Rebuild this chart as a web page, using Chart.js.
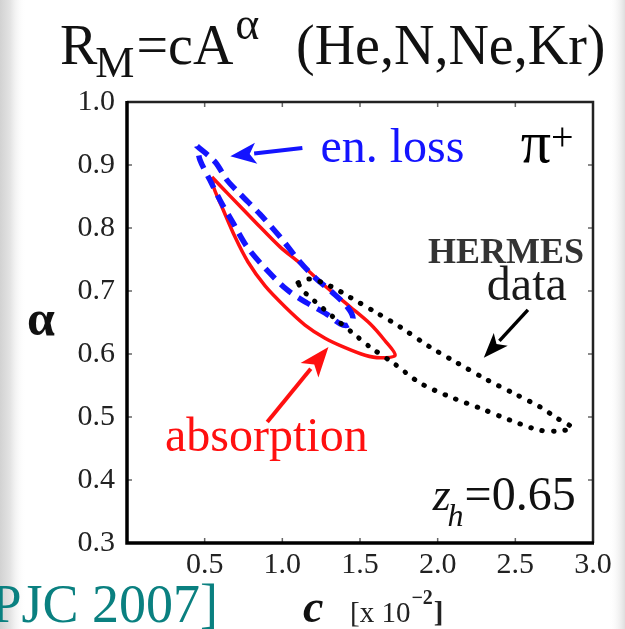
<!DOCTYPE html>
<html><head><meta charset="utf-8">
<script src="https://cdn.jsdelivr.net/npm/chart.js@4.4.1/dist/chart.umd.min.js"></script>
<style>html,body{margin:0;padding:0;background:#fff;overflow:hidden}#wrap{position:relative;width:625px;height:629px}canvas{display:block}</style>
</head><body><div id="wrap"><canvas id="c" width="625" height="629"></canvas></div>
<script>
// ---- data ----
const xTicks = [0.5, 1.0, 1.5, 2.0, 2.5, 3.0];
const yTicks = [0.3, 0.4, 0.5, 0.6, 0.7, 0.8, 0.9, 1.0];

// absorption contour (red, solid)
const absC     = [0.547,0.663,0.824,0.985,1.114,1.275,1.436,1.565,1.661,1.726,1.629,1.533,1.404,1.275,1.146,1.017,0.889,0.779,0.695,0.612,0.560,0.547];
const absAlpha = [0.881,0.851,0.810,0.770,0.744,0.708,0.675,0.648,0.621,0.598,0.594,0.598,0.610,0.625,0.646,0.675,0.708,0.746,0.786,0.833,0.863,0.881];

// energy-loss contour (blue, dashed)
const elC      = [0.451,0.567,0.644,0.728,0.856,0.985,1.114,1.211,1.326,1.417,1.455,1.423,1.372,1.288,1.159,1.030,0.901,0.773,0.683,0.599,0.534,0.470,0.451];
const elAlpha  = [0.930,0.905,0.876,0.854,0.822,0.786,0.746,0.721,0.697,0.675,0.657,0.646,0.648,0.663,0.681,0.702,0.733,0.770,0.808,0.844,0.876,0.908,0.930];

// HERMES data contour (black, dotted)
const hmC      = [1.101,1.178,1.307,1.436,1.610,1.758,1.951,2.125,2.318,2.486,2.659,2.769,2.865,2.788,2.659,2.466,2.273,2.080,1.887,1.713,1.565,1.455,1.326,1.198,1.127,1.101];
const hmAlpha  = [0.713,0.719,0.708,0.690,0.665,0.643,0.611,0.586,0.559,0.538,0.516,0.498,0.483,0.478,0.479,0.495,0.514,0.532,0.554,0.586,0.611,0.633,0.659,0.686,0.702,0.713];

const pts = (xs, ys) => xs.map((v, i) => ({x: v, y: ys[i]}));

// annotation anchors in data units
const ANN = {
  enLoss:   {x: 1.245, y: 0.905},
  blueArrow:{x1: 1.129, y1: 0.927, x2: 0.665, y2: 0.914},
  pi:       {x: 2.535, y: 0.905},
  hermes:   {x: 2.942, y: 0.744},
  data:     {x: 2.574, y: 0.686},
  blkArrow: {x1: 2.581, y1: 0.670, x2: 2.297, y2: 0.594},
  absorp:   {x: 0.245, y: 0.446},
  redArrow: {x1: 0.903, y1: 0.492, x2: 1.297, y2: 0.611},
  zh:       {x: 1.968, y: 0.352}
};

const SERIF = "'Liberation Serif', 'Times New Roman', serif";

function txt(ctx, s, x, y, font, color, align) {
  ctx.font = font; ctx.fillStyle = color; ctx.textAlign = align || 'left'; ctx.textBaseline = 'alphabetic';
  ctx.fillText(s, x, y);
  return ctx.measureText(s).width;
}
function arrow(ctx, x1, y1, x2, y2, color, lw, hl, hw) {
  const a = Math.atan2(y2 - y1, x2 - x1);
  const bx = x2 - hl * Math.cos(a), by = y2 - hl * Math.sin(a);
  ctx.save();
  ctx.strokeStyle = color; ctx.fillStyle = color; ctx.lineWidth = lw; ctx.lineCap = 'butt';
  ctx.beginPath(); ctx.moveTo(x1, y1); ctx.lineTo(bx + 2 * Math.cos(a), by + 2 * Math.sin(a)); ctx.stroke();
  ctx.beginPath();
  ctx.moveTo(x2, y2);
  ctx.lineTo(bx + hw / 2 * Math.sin(a), by - hw / 2 * Math.cos(a));
  ctx.lineTo(bx + hl * 0.25 * Math.cos(a), by + hl * 0.25 * Math.sin(a));
  ctx.lineTo(bx - hw / 2 * Math.sin(a), by + hw / 2 * Math.cos(a));
  ctx.closePath(); ctx.fill();
  ctx.restore();
}

const deco = {
  id: 'deco',
  beforeDraw(chart) {
    const ctx = chart.ctx, W = chart.width, H = chart.height;
    ctx.save();
    ctx.fillStyle = '#fff'; ctx.fillRect(0, 0, W, H);
    let g = ctx.createLinearGradient(0, 0, 26, 0);
    g.addColorStop(0, '#d2d2d2'); g.addColorStop(0.4, '#e4e4e4'); g.addColorStop(1, 'rgba(255,255,255,0)');
    ctx.fillStyle = g; ctx.fillRect(0, 0, 26, H);
    g = ctx.createLinearGradient(W, 0, W - 16, 0);
    g.addColorStop(0, '#dedede'); g.addColorStop(1, 'rgba(255,255,255,0)');
    ctx.fillStyle = g; ctx.fillRect(W - 16, 0, 16, H);
    ctx.restore();
  },
  afterDatasetsDraw(chart) {
    const ctx = chart.ctx, a = chart.chartArea, xs = chart.scales.x, ys = chart.scales.y;
    const X = v => xs.getPixelForValue(v), Y = v => ys.getPixelForValue(v);
    ctx.save();
    // inner tick marks
    ctx.strokeStyle = '#666'; ctx.lineWidth = 1.5;
    ctx.beginPath();
    xTicks.forEach(v => { const p = X(v); ctx.moveTo(p, a.bottom); ctx.lineTo(p, a.bottom - 5); ctx.moveTo(p, a.top); ctx.lineTo(p, a.top + 5); });
    yTicks.forEach(v => { const p = Y(v); ctx.moveTo(a.left, p); ctx.lineTo(a.left + 5, p); ctx.moveTo(a.right, p); ctx.lineTo(a.right - 5, p); });
    ctx.stroke();
    // frame
    ctx.strokeStyle = '#222'; ctx.lineWidth = 2.5;
    ctx.beginPath(); ctx.moveTo(a.left, a.top); ctx.lineTo(a.right, a.top); ctx.lineTo(a.right, a.bottom); ctx.stroke();
    ctx.strokeStyle = '#000'; ctx.lineWidth = 3.5;
    ctx.beginPath(); ctx.moveTo(a.left, a.top - 1); ctx.lineTo(a.left, a.bottom); ctx.lineTo(a.right + 1, a.bottom); ctx.stroke();

    // annotations
    txt(ctx, 'en. loss', X(ANN.enLoss.x), Y(ANN.enLoss.y), `48px ${SERIF}`, '#1414ff');
    arrow(ctx, X(ANN.blueArrow.x1), Y(ANN.blueArrow.y1), X(ANN.blueArrow.x2), Y(ANN.blueArrow.y2), '#1414ff', 4, 26, 21);
    const pw = txt(ctx, 'π', X(ANN.pi.x), Y(ANN.pi.y), `60px ${SERIF}`, '#000');
    txt(ctx, '+', X(ANN.pi.x) + pw, Y(ANN.pi.y) - 12, `40px ${SERIF}`, '#000');
    txt(ctx, 'HERMES', X(ANN.hermes.x), Y(ANN.hermes.y), `bold 36px ${SERIF}`, '#333', 'right');
    txt(ctx, 'data', X(ANN.data.x), Y(ANN.data.y), `48px ${SERIF}`, '#1a1a1a', 'center');
    arrow(ctx, X(ANN.blkArrow.x1), Y(ANN.blkArrow.y1), X(ANN.blkArrow.x2), Y(ANN.blkArrow.y2), '#000', 3.5, 25, 19);
    txt(ctx, 'absorption', X(ANN.absorp.x), Y(ANN.absorp.y), `48px ${SERIF}`, '#ff1010');
    arrow(ctx, X(ANN.redArrow.x1), Y(ANN.redArrow.y1), X(ANN.redArrow.x2), Y(ANN.redArrow.y2), '#ff1010', 4, 30, 23);
    let zx = X(ANN.zh.x), zy = Y(ANN.zh.y);
    const zw = txt(ctx, 'z', zx, zy, `italic 46px ${SERIF}`, '#111');
    const hw = txt(ctx, 'h', zx + zw - 3, zy + 16, `italic 32px ${SERIF}`, '#111');
    txt(ctx, '=0.65', zx + zw - 3 + hw + 1, zy, `48px ${SERIF}`, '#111');
    ctx.restore();
  },
  afterDraw(chart) {
    const ctx = chart.ctx;
    ctx.save();
    // title
    let x = 60; const base = 64;
    x += txt(ctx, 'R', x, base, `56px ${SERIF}`, '#111');
    x += txt(ctx, 'M', x - 2, base + 13, `44px ${SERIF}`, '#111') - 2;
    x += txt(ctx, '=cA', x + 2, base, `56px ${SERIF}`, '#111') + 2;
    x += txt(ctx, 'α', x + 2, base - 25, `46px ${SERIF}`, '#111') + 2;
    txt(ctx, '(He,N,Ne,Kr)', 296, base, `56px ${SERIF}`, '#111');
    // reference
    txt(ctx, '[PJC 2007]', 218, 622, `54px ${SERIF}`, '#0a8080', 'right');
    // axis titles
    txt(ctx, 'α', 41, 335, `bold 50px ${SERIF}`, '#111', 'center');
    txt(ctx, 'c', 303, 622, `bold italic 46px ${SERIF}`, '#111');
    let bx = 350;
    bx += txt(ctx, '[x 10', bx, 622, `29px ${SERIF}`, '#222');
    bx += txt(ctx, '−2', bx + 1, 604, `bold 20px ${SERIF}`, '#222') + 1;
    txt(ctx, ']', bx + 1, 622, `bold 29px ${SERIF}`, '#222');
    ctx.restore();
  }
};

const tickFont = {family: SERIF, size: 30};

new Chart(document.getElementById('c'), {
  type: 'scatter',
  data: {
    datasets: [
      {label: 'HERMES data', data: pts(hmC, hmAlpha), showLine: true, order: 0,
       borderColor: '#000', borderWidth: 5, borderDash: [0.5, 11], borderCapStyle: 'round',
       pointRadius: 0, tension: 0.3, fill: false},
      {label: 'en. loss', data: pts(elC, elAlpha), showLine: true, order: 1,
       borderColor: '#1414ff', borderWidth: 5.5, borderDash: [14, 8],
       pointRadius: 0, tension: 0.3, fill: false},
      {label: 'absorption', data: pts(absC, absAlpha), showLine: true, order: 2,
       borderColor: '#ff1010', borderWidth: 3.5,
       pointRadius: 0, tension: 0.3, fill: false}
    ]
  },
  options: {
    responsive: false, animation: false, devicePixelRatio: 1,
    layout: {padding: {left: 0, right: 32, top: 102, bottom: 0}},
    plugins: {legend: {display: false}, tooltip: {enabled: false}, title: {display: false}},
    scales: {
      x: {type: 'linear', min: 0, max: 3.0,
          afterBuildTicks: s => { s.ticks = xTicks.map(v => ({value: v})); },
          afterFit: s => { s.height = 86; },
          grid: {display: false, drawTicks: false}, border: {display: false},
          ticks: {font: tickFont, color: '#222', padding: 4, maxRotation: 0, autoSkip: false,
                  callback: v => Number(v).toFixed(1)}},
      y: {type: 'linear', min: 0.3, max: 1.0,
          afterBuildTicks: s => { s.ticks = yTicks.map(v => ({value: v})); },
          afterFit: s => { s.width = 127; },
          grid: {display: false, drawTicks: false}, border: {display: false},
          ticks: {font: tickFont, color: '#222', padding: 12, autoSkip: false,
                  callback: v => Number(v).toFixed(1)}}
    }
  },
  plugins: [deco]
});
</script>
</body></html>
